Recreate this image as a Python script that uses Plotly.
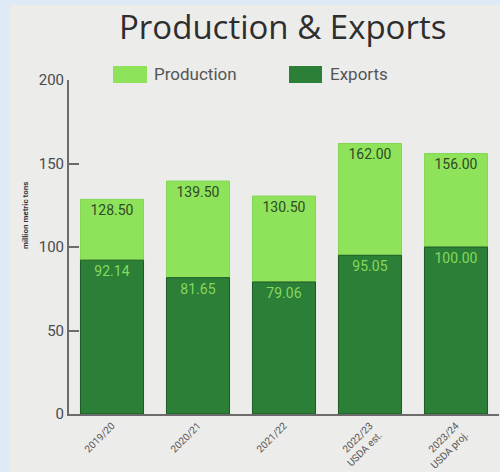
import plotly.graph_objects as go

# Marketing years and volumes (million metric tons)
seasons = ["2019/20", "2020/21", "2021/22", "2022/23<br>USDA est.", "2023/24<br>USDA proj."]
production = [128.50, 139.50, 130.50, 162.00, 156.00]
exports = [92.14, 81.65, 79.06, 95.05, 100.00]

PROD_COLOR = "#8fe35b"
EXP_COLOR = "#2b7f36"
EDGE_COLOR = "#1f5a27"
LABEL_FONT = "Roboto, Noto Sans, sans-serif"

W, H = 500, 472
L, R, T, B = 69, 1, 80, 58
PW, PH = W - L - R, H - T - B


def px_x(x):
    return (x - L) / PW


def px_y(y):
    return (H - B - y) / PH


fig = go.Figure()

fig.add_trace(go.Bar(
    x=seasons, y=production, name="Production",
    marker=dict(color=PROD_COLOR, line=dict(color="#84d656", width=1)),
    text=[f"{v:.2f}" for v in production],
    textposition="inside", insidetextanchor="end",
    textfont=dict(family=LABEL_FONT, size=14, color="#2f4a26"),
    hoverinfo="x+y",
))
fig.add_trace(go.Bar(
    x=seasons, y=exports, name="Exports",
    marker=dict(color=EXP_COLOR, line=dict(color=EDGE_COLOR, width=1)),
    text=[f"{v:.2f}" for v in exports],
    textposition="inside", insidetextanchor="end",
    textfont=dict(family=LABEL_FONT, size=14, color="#86d95e"),
    hoverinfo="x+y",
))

shapes = [
    # light panel over the blue frame
    dict(type="rect", xref="paper", yref="paper", layer="below",
         x0=px_x(10), x1=px_x(W + 5), y0=px_y(H + 5), y1=px_y(5),
         fillcolor="#ececeb", line=dict(width=0)),
    # legend swatches
    dict(type="rect", xref="paper", yref="paper",
         x0=px_x(113), x1=px_x(147), y0=px_y(83), y1=px_y(66),
         fillcolor=PROD_COLOR, line=dict(width=0)),
    dict(type="rect", xref="paper", yref="paper",
         x0=px_x(289), x1=px_x(322), y0=px_y(83), y1=px_y(66),
         fillcolor=EXP_COLOR, line=dict(width=0)),
]

annotations = [
    dict(text="Production &amp; Exports", xref="paper", yref="paper",
         x=px_x(282), y=px_y(27), xanchor="center", yanchor="middle",
         showarrow=False, font=dict(family="Open Sans, Lato", size=33, color="#2e2e2e")),
    dict(text="Production", xref="paper", yref="paper",
         x=px_x(152), y=px_y(74), xanchor="left", yanchor="middle",
         showarrow=False, font=dict(family=LABEL_FONT, size=17, color="#555555")),
    dict(text="Exports", xref="paper", yref="paper",
         x=px_x(328), y=px_y(74), xanchor="left", yanchor="middle",
         showarrow=False, font=dict(family=LABEL_FONT, size=17, color="#555555")),
    dict(text="<b>million metric tons</b>", xref="paper", yref="paper",
         x=px_x(25), y=px_y(216), xanchor="center", yanchor="middle", textangle=-90,
         showarrow=False, font=dict(family=LABEL_FONT, size=8, color="#333333")),
]

fig.update_layout(
    width=W, height=H,
    margin=dict(l=L, r=R, t=T, b=B),
    paper_bgcolor="#dfeaf7",
    plot_bgcolor="rgba(0,0,0,0)",
    barmode="overlay",
    bargap=0.267,
    showlegend=False,
    shapes=shapes,
    annotations=annotations,
    uniformtext=dict(minsize=8, mode="show"),
)

fig.update_xaxes(
    automargin=False,
    showgrid=False, showline=True, linecolor="#6b6b6b", linewidth=2,
    ticks="", tickangle=-45, ticklabelstandoff=0,
    tickfont=dict(family=LABEL_FONT, size=10, color="#555555"),
)
fig.update_yaxes(
    automargin=False,
    range=[0, 200], tickvals=[0, 50, 100, 150, 200],
    showgrid=False, zeroline=False, showline=True, linecolor="#6b6b6b", linewidth=2,
    ticks="inside", ticklen=10, tickcolor="#6b6b6b", tickwidth=1.5,
    tickfont=dict(family=LABEL_FONT, size=15, color="#4a4a4a"),
)

fig.write_html("out.html")
